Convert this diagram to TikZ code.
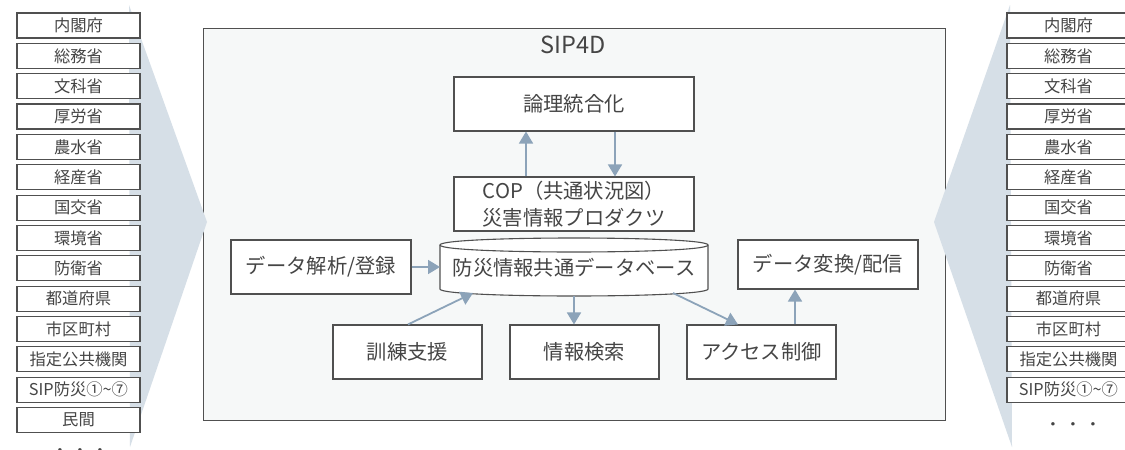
\documentclass[tikz,border=0pt]{standalone}
\usepackage{fontspec}
\setmainfont{Noto Sans CJK JP}
\usetikzlibrary{arrows.meta}
\definecolor{txt}{HTML}{454545}
\definecolor{edge}{HTML}{505050}
\definecolor{bg}{HTML}{F6F8F8}
\definecolor{band}{HTML}{D6DFE7}
\definecolor{arrowc}{HTML}{8CA3B9}
\tikzset{
  orgbox/.style={draw=edge, line width=1.2pt, fill=white, minimum width=123pt, minimum height=25pt, inner sep=0pt, text=txt, font=\fontsize{16.3}{18}\selectfont},
  mainbox/.style={draw=edge, line width=1.1pt, fill=white, inner sep=0pt, text=txt, font=\fontsize{20.3}{27.5}\selectfont, align=center},
  flow/.style={draw=arrowc, line width=1.8pt, -{Triangle[width=14pt,length=12pt]}},
}
\begin{document}
\begin{tikzpicture}[x=1pt,y=-1pt]
\clip (0,0) rectangle (1125,450);
\fill[white] (0,0) rectangle (1125,450);
% main SIP4D frame
\node[draw=edge, line width=1pt, fill=bg, minimum width=742pt, minimum height=392pt, inner sep=0pt] (sip) at (574,224) {};
\node[text=txt, font=\fontsize{23.5}{26}\selectfont] (siptitle) at (573,45) {SIP4D};
% side bands
\fill[band] (129,5) -- (207,222) -- (130,447) -- cycle;
\fill[band] (1010,5) -- (934,222) -- (1012,447) -- cycle;
% left organisations
\foreach \t [count=\i from 0] in {内閣府,総務省,文科省,厚労省,農水省,経産省,国交省,環境省,防衛省,都道府県,市区町村,指定公共機関,SIP防災①\textasciitilde⑦,民間} {
  \node[orgbox] (L\i) at (78.5,{25.5+30.35*\i}) {\t};
}
\node[text=txt, font=\fontsize{16.3}{18}\selectfont, inner sep=0pt] (Ldots) at (80,453) {・\hspace{3.7pt}・\hspace{3.7pt}・};
% right organisations
\foreach \t [count=\i from 0] in {内閣府,総務省,文科省,厚労省,農水省,経産省,国交省,環境省,防衛省,都道府県,市区町村,指定公共機関,SIP防災①\textasciitilde⑦} {
  \node[orgbox] (R\i) at (1068.5,{25.5+30.35*\i}) {\t};
}
\node[text=txt, font=\fontsize{16.3}{18}\selectfont, inner sep=0pt] (Rdots) at (1073,427) {・\hspace{3.7pt}・\hspace{3.7pt}・};
% inner boxes
\node[mainbox, minimum width=240pt, minimum height=54pt] (logic) at (574,104) {論理統合化};
\node[mainbox, minimum width=240pt, minimum height=54pt] (cop) at (574,204) {COP（共通状況図）\\災害情報プロダクツ};
\node[mainbox, minimum width=180pt, minimum height=54pt] (analyze) at (321,267) {データ解析/登録};
\node[mainbox, minimum width=180pt, minimum height=49pt] (convert) at (828,264.5) {データ変換/配信};
\node[mainbox, minimum width=149pt, minimum height=54pt] (train) at (407.5,352) {訓練支援};
\node[mainbox, minimum width=149pt, minimum height=54pt] (search) at (584.5,352) {情報検索};
\node[mainbox, minimum width=149pt, minimum height=54pt] (access) at (761.5,352) {アクセス制御};
% database cylinder
\filldraw[draw=edge, line width=1.1pt, fill=white]
  (440,245) -- (440,289) .. controls (440,298.33) and (708,298.33) .. (708,289) -- (708,245)
  .. controls (708,235.67) and (440,235.67) .. (440,245) -- cycle;
\draw[edge, line width=1.1pt] (440,245) .. controls (440,254.33) and (708,254.33) .. (708,245);
\node[text=txt, font=\fontsize{20.3}{24}\selectfont, minimum width=268pt, minimum height=58pt, inner sep=0pt] (db) at (574,268) {防災情報共通データベース};
\coordinate (dbBL) at (473,293);
\coordinate (dbBR) at (673,293);
% connectors
\draw[flow] (526,0 |- cop.north) -- (526,0 |- logic.south);
\draw[flow] (615,0 |- logic.south) -- (615,0 |- cop.north);
\draw[flow] (analyze.east) -- (440,0 |- analyze.east);
\draw[flow] (408,0 |- train.north) -- (dbBL);
\draw[flow] (574,296) -- (574,0 |- search.north);
\draw[flow] (dbBR) -- (738,0 |- access.north);
\draw[flow] (795,0 |- access.north) -- (795,0 |- convert.south);
\end{tikzpicture}
\end{document}
